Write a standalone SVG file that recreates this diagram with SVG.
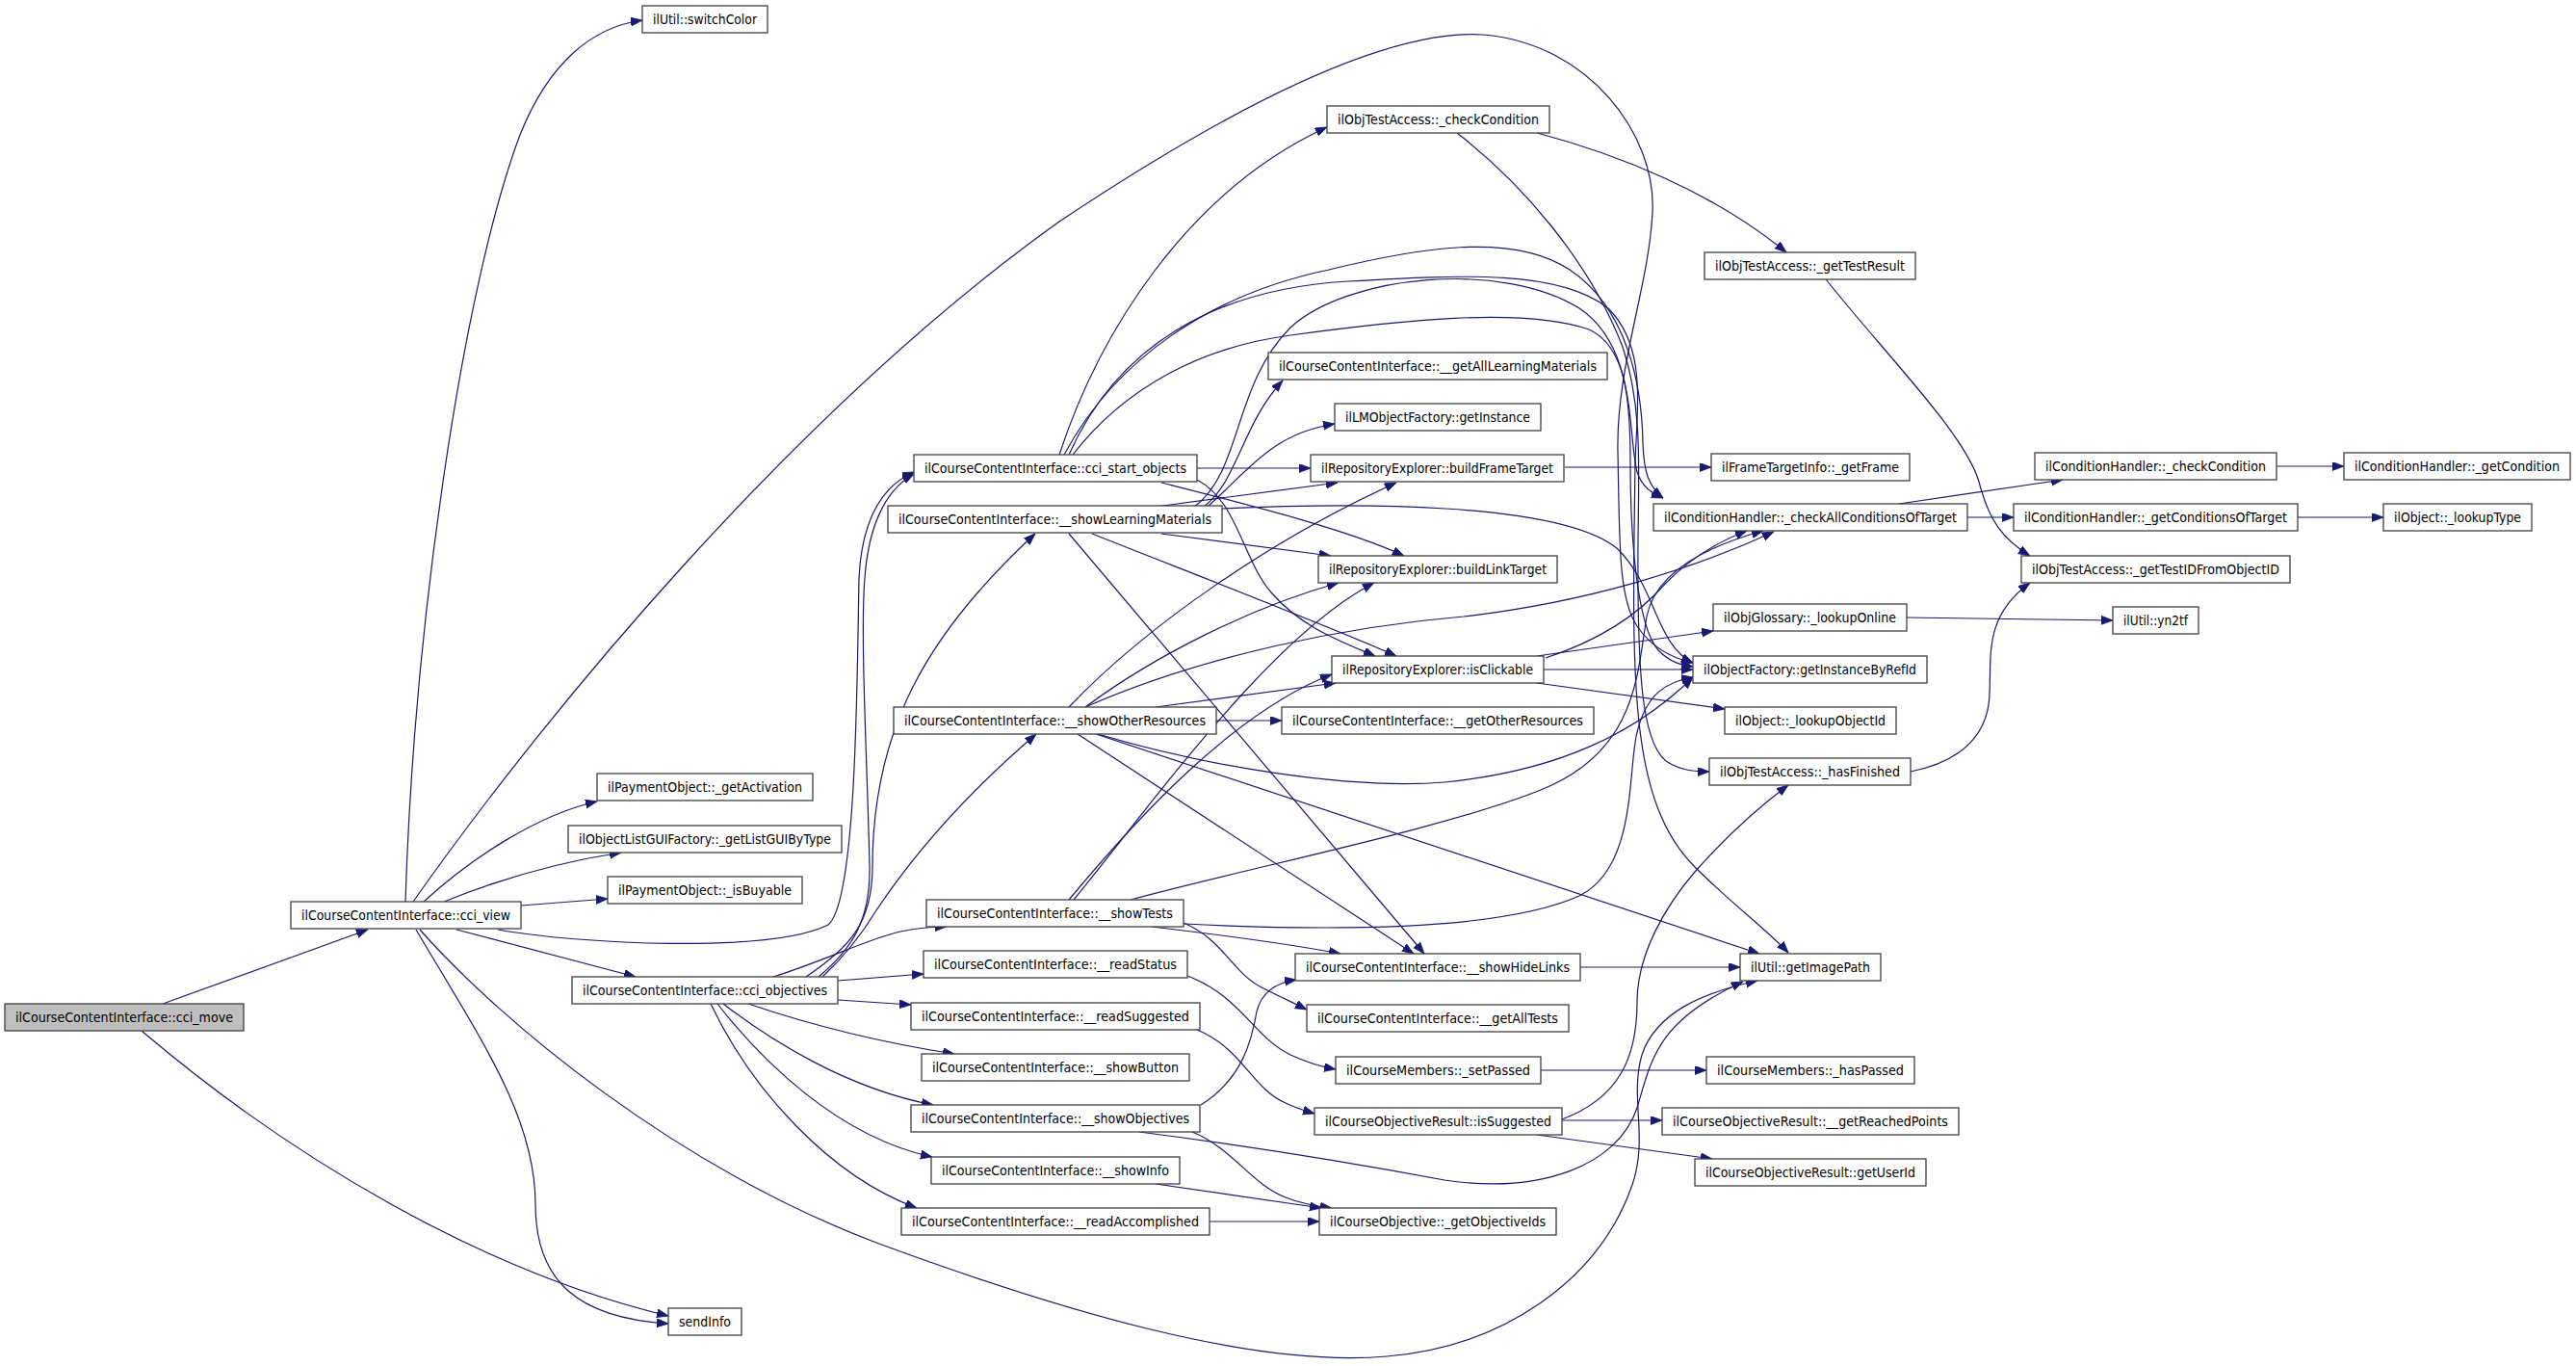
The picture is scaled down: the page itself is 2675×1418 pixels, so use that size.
<svg xmlns="http://www.w3.org/2000/svg" width="2675" height="1418" viewBox="0 0 2675 1418">
<style>
.n rect{fill:#ffffff;stroke:#404040;stroke-width:1.3}
.g rect{fill:#bfbfbf;stroke:#404040;stroke-width:1.3}
text{font-family:"DejaVu Sans","Liberation Sans",sans-serif;font-size:13.5px;fill:#000;text-anchor:middle}
.e path{fill:none;stroke:#191970;stroke-width:1.2;marker-end:url(#ah)}
</style>
<defs>
<marker id="ah" markerUnits="userSpaceOnUse" markerWidth="13" markerHeight="10" refX="12" refY="4.5" orient="auto">
<path d="M0,0 L12,4.5 L0,9 z" fill="#191970" stroke="#191970" stroke-width="0.8"/>
</marker>
</defs>
<rect width="2675" height="1418" fill="#ffffff"/>
<g id="connectors" class="e">
<path d="M169,1042 L382,965"/>
<path d="M147,1070 C 300,1200 500,1320 694,1366"/>
<path d="M432,965 C 500,1080 556,1160 556,1250 C 556,1330 600,1368 694,1374"/>
<path d="M421,936 C 430,650 480,300 540,140 C 570,65 615,28 667,21"/>
<path d="M429,936 C 560,750 820,430 1100,230 C 1280,110 1440,30 1540,36 C 1650,45 1720,140 1716,220 C 1712,300 1678,380 1680,470 C 1682,560 1680,620 1700,650 C 1715,672 1735,683 1758,688"/>
<path d="M440,936 C 490,890 560,845 620,832"/>
<path d="M461,936 C 520,912 580,895 645,885"/>
<path d="M541,940 L631,933"/>
<path d="M474,965 L660,1014"/>
<path d="M517,965 C 600,980 800,990 860,960 C 890,935 890,700 892,600 C 895,540 915,505 949,490"/>
<path d="M850,1014 C 885,985 904,955 903,900 C 901,800 893,660 898,600 C 902,545 920,508 949,492"/>
<path d="M837,1014 C 880,985 906,960 906,900 C 906,760 960,660 1075,554"/>
<path d="M854,1014 C 880,990 896,968 910,945 C 960,870 1020,810 1076,762"/>
<path d="M803,1014 C 860,996 900,975 935,967 C 950,964 965,962 983,962"/>
<path d="M870,1018 L959,1011"/>
<path d="M870,1038 L946,1043"/>
<path d="M777,1042 C 830,1060 900,1080 991,1094"/>
<path d="M751,1042 C 800,1080 880,1130 969,1147"/>
<path d="M745,1042 C 790,1100 870,1180 968,1201"/>
<path d="M738,1042 C 780,1130 860,1220 952,1254"/>
<path d="M436,965 C 520,1060 700,1210 910,1290 C 1100,1360 1300,1420 1440,1408 C 1560,1398 1660,1330 1695,1230 C 1712,1180 1692,1140 1705,1095 C 1720,1050 1770,1030 1825,1018"/>
<path d="M1100,472 C 1140,350 1230,200 1378,132"/>
<path d="M1243,486 L1361,486"/>
<path d="M1206,501 C 1300,525 1400,550 1458,577"/>
<path d="M1243,498 C 1285,520 1290,580 1320,615 C 1350,650 1390,665 1428,681"/>
<path d="M1105,472 C 1160,370 1260,305 1380,280 C 1470,258 1570,240 1630,280 C 1690,320 1705,400 1706,460 C 1707,490 1712,505 1727,517"/>
<path d="M1110,472 C 1160,360 1260,300 1400,292 C 1520,285 1620,280 1670,320 C 1710,360 1700,420 1698,480 C 1695,700 1690,830 1760,900 C 1800,940 1835,965 1857,989"/>
<path d="M1114,472 C 1170,400 1250,360 1340,348 C 1450,333 1580,318 1650,342 C 1690,360 1693,420 1693,480 C 1693,560 1700,650 1722,675 C 1735,688 1745,690 1758,692"/>
<path d="M1240,526 C 1290,490 1280,400 1340,340 C 1400,285 1560,270 1640,320 C 1700,360 1690,450 1700,490 C 1705,505 1715,512 1727,517"/>
<path d="M1513,138 C 1580,190 1650,270 1685,360 C 1705,420 1702,480 1701,560 C 1700,700 1705,770 1730,790 C 1745,800 1760,801 1775,801"/>
<path d="M1596,138 C 1680,160 1780,200 1855,262"/>
<path d="M1200,526 L1389,501"/>
<path d="M1268,528 C 1400,522 1620,520 1680,570 C 1720,610 1720,670 1758,688"/>
<path d="M1206,554 L1382,577"/>
<path d="M1134,554 C 1250,600 1380,650 1450,681"/>
<path d="M1110,554 L1479,990"/>
<path d="M1250,526 C 1285,500 1290,440 1332,395"/>
<path d="M1254,526 C 1295,490 1320,450 1386,440"/>
<path d="M1263,748 L1331,748"/>
<path d="M1110,734 C 1190,650 1320,560 1450,501"/>
<path d="M1127,734 C 1200,680 1300,630 1390,605"/>
<path d="M1127,734 C 1250,680 1400,650 1520,640 C 1650,625 1760,590 1842,552"/>
<path d="M1200,734 L1387,709"/>
<path d="M1119,762 L1468,990"/>
<path d="M1138,762 L1827,990"/>
<path d="M1140,762 C 1250,795 1400,820 1500,812 C 1620,800 1700,760 1758,703"/>
<path d="M1603,695 L1758,695"/>
<path d="M1596,681 L1779,655"/>
<path d="M1596,709 L1791,736"/>
<path d="M1605,683 C 1660,665 1700,640 1730,605 C 1760,575 1790,560 1814,551"/>
<path d="M1110,934 C 1180,850 1280,740 1383,700"/>
<path d="M1115,934 C 1200,830 1320,660 1427,605"/>
<path d="M1174,934 C 1300,900 1500,860 1600,820 C 1700,780 1700,700 1710,640 C 1720,590 1780,565 1831,551"/>
<path d="M1196,962 C 1280,972 1340,980 1392,990"/>
<path d="M1229,958 C 1270,975 1280,1010 1310,1025 C 1330,1035 1345,1042 1357,1048"/>
<path d="M1230,959 C 1350,965 1550,970 1640,930 C 1700,900 1690,800 1700,760 C 1710,720 1730,708 1758,703"/>
<path d="M1233,1013 C 1290,1035 1300,1075 1340,1095 C 1355,1102 1370,1107 1387,1110"/>
<path d="M1243,1069 C 1290,1088 1300,1130 1335,1145 C 1345,1150 1355,1153 1365,1156"/>
<path d="M1247,1147 C 1290,1120 1300,1080 1305,1050 C 1310,1030 1325,1020 1346,1017"/>
<path d="M1238,1175 C 1280,1192 1300,1230 1335,1243 C 1350,1249 1365,1252 1383,1254"/>
<path d="M1183,1175 C 1300,1190 1420,1210 1500,1225 C 1600,1240 1680,1210 1700,1150 C 1715,1100 1720,1060 1810,1019"/>
<path d="M1200,1229 L1372,1254"/>
<path d="M1256,1268 L1370,1268"/>
<path d="M1622,1163 L1726,1163"/>
<path d="M1596,1178 L1778,1203"/>
<path d="M1622,1162 C 1680,1140 1700,1100 1700,1040 C 1700,990 1730,940 1760,905 C 1800,860 1830,835 1857,815"/>
<path d="M1600,1111 L1772,1111"/>
<path d="M1625,485 L1777,485"/>
<path d="M1980,641 L2194,644"/>
<path d="M1984,801 C 2040,790 2065,760 2066,720 C 2068,680 2060,640 2108,605"/>
<path d="M1896,290 C 1960,370 2040,450 2055,500 C 2065,540 2080,560 2108,577"/>
<path d="M1972,523 L2142,498"/>
<path d="M2043,537 L2091,537"/>
<path d="M2364,484 L2434,484"/>
<path d="M2386,537 L2475,537"/>
<path d="M1641,1004 L1807,1004"/>
</g>
<g id="n_move" class="g"><rect x="5" y="1042" width="248" height="28"/><text x="129" y="1061" textLength="226" lengthAdjust="spacingAndGlyphs">ilCourseContentInterface::cci_move</text></g>
<g id="n_view" class="n"><rect x="302" y="936" width="239" height="28"/><text x="421.5" y="955" textLength="217" lengthAdjust="spacingAndGlyphs">ilCourseContentInterface::cci_view</text></g>
<g id="n_switchColor" class="n"><rect x="667" y="6" width="130" height="28"/><text x="732" y="25" textLength="108" lengthAdjust="spacingAndGlyphs">ilUtil::switchColor</text></g>
<g id="n_getActivation" class="n"><rect x="620" y="803" width="224" height="28"/><text x="732" y="822" textLength="202" lengthAdjust="spacingAndGlyphs">ilPaymentObject::_getActivation</text></g>
<g id="n_getListGUI" class="n"><rect x="590" y="857" width="284" height="28"/><text x="732" y="876" textLength="262" lengthAdjust="spacingAndGlyphs">ilObjectListGUIFactory::_getListGUIByType</text></g>
<g id="n_isBuyable" class="n"><rect x="631" y="910" width="202" height="28"/><text x="732" y="929" textLength="180" lengthAdjust="spacingAndGlyphs">ilPaymentObject::_isBuyable</text></g>
<g id="n_objectives" class="n"><rect x="594" y="1014" width="276" height="28"/><text x="732" y="1033" textLength="254" lengthAdjust="spacingAndGlyphs">ilCourseContentInterface::cci_objectives</text></g>
<g id="n_sendInfo" class="n"><rect x="694" y="1358" width="76" height="28"/><text x="732" y="1377" textLength="54" lengthAdjust="spacingAndGlyphs">sendInfo</text></g>
<g id="n_start" class="n"><rect x="949" y="472" width="294" height="28"/><text x="1096" y="491" textLength="272" lengthAdjust="spacingAndGlyphs">ilCourseContentInterface::cci_start_objects</text></g>
<g id="n_showLM" class="n"><rect x="922" y="525" width="347" height="28"/><text x="1095.5" y="544" textLength="325" lengthAdjust="spacingAndGlyphs">ilCourseContentInterface::__showLearningMaterials</text></g>
<g id="n_showOR" class="n"><rect x="928" y="734" width="335" height="28"/><text x="1095.5" y="753" textLength="313" lengthAdjust="spacingAndGlyphs">ilCourseContentInterface::__showOtherResources</text></g>
<g id="n_showTests" class="n"><rect x="962" y="934" width="267" height="28"/><text x="1095.5" y="953" textLength="245" lengthAdjust="spacingAndGlyphs">ilCourseContentInterface::__showTests</text></g>
<g id="n_readStatus" class="n"><rect x="959" y="987" width="274" height="28"/><text x="1096" y="1006" textLength="252" lengthAdjust="spacingAndGlyphs">ilCourseContentInterface::__readStatus</text></g>
<g id="n_readSuggested" class="n"><rect x="946" y="1041" width="300" height="28"/><text x="1096" y="1060" textLength="278" lengthAdjust="spacingAndGlyphs">ilCourseContentInterface::__readSuggested</text></g>
<g id="n_showButton" class="n"><rect x="957" y="1094" width="278" height="28"/><text x="1096" y="1113" textLength="256" lengthAdjust="spacingAndGlyphs">ilCourseContentInterface::__showButton</text></g>
<g id="n_showObjectives" class="n"><rect x="946" y="1147" width="300" height="28"/><text x="1096" y="1166" textLength="278" lengthAdjust="spacingAndGlyphs">ilCourseContentInterface::__showObjectives</text></g>
<g id="n_showInfo" class="n"><rect x="967" y="1201" width="258" height="28"/><text x="1096" y="1220" textLength="236" lengthAdjust="spacingAndGlyphs">ilCourseContentInterface::__showInfo</text></g>
<g id="n_readAccomplished" class="n"><rect x="936" y="1254" width="320" height="28"/><text x="1096" y="1273" textLength="298" lengthAdjust="spacingAndGlyphs">ilCourseContentInterface::__readAccomplished</text></g>
<g id="n_otaCheckCond" class="n"><rect x="1378" y="110" width="231" height="28"/><text x="1493.5" y="129" textLength="209" lengthAdjust="spacingAndGlyphs">ilObjTestAccess::_checkCondition</text></g>
<g id="n_getAllLM" class="n"><rect x="1317" y="366" width="352" height="28"/><text x="1493" y="385" textLength="330" lengthAdjust="spacingAndGlyphs">ilCourseContentInterface::__getAllLearningMaterials</text></g>
<g id="n_lmGetInstance" class="n"><rect x="1386" y="419" width="214" height="28"/><text x="1493" y="438" textLength="192" lengthAdjust="spacingAndGlyphs">ilLMObjectFactory::getInstance</text></g>
<g id="n_buildFrame" class="n"><rect x="1361" y="472" width="263" height="28"/><text x="1492.5" y="491" textLength="241" lengthAdjust="spacingAndGlyphs">ilRepositoryExplorer::buildFrameTarget</text></g>
<g id="n_buildLink" class="n"><rect x="1369" y="577" width="248" height="28"/><text x="1493" y="596" textLength="226" lengthAdjust="spacingAndGlyphs">ilRepositoryExplorer::buildLinkTarget</text></g>
<g id="n_isClickable" class="n"><rect x="1383" y="681" width="220" height="28"/><text x="1493" y="700" textLength="198" lengthAdjust="spacingAndGlyphs">ilRepositoryExplorer::isClickable</text></g>
<g id="n_getOtherRes" class="n"><rect x="1331" y="734" width="324" height="28"/><text x="1493" y="753" textLength="302" lengthAdjust="spacingAndGlyphs">ilCourseContentInterface::__getOtherResources</text></g>
<g id="n_showHideLinks" class="n"><rect x="1345" y="990" width="296" height="28"/><text x="1493" y="1009" textLength="274" lengthAdjust="spacingAndGlyphs">ilCourseContentInterface::__showHideLinks</text></g>
<g id="n_getAllTests" class="n"><rect x="1357" y="1043" width="272" height="28"/><text x="1493" y="1062" textLength="250" lengthAdjust="spacingAndGlyphs">ilCourseContentInterface::__getAllTests</text></g>
<g id="n_setPassed" class="n"><rect x="1387" y="1097" width="213" height="28"/><text x="1493.5" y="1116" textLength="191" lengthAdjust="spacingAndGlyphs">ilCourseMembers::_setPassed</text></g>
<g id="n_isSuggested" class="n"><rect x="1365" y="1150" width="257" height="28"/><text x="1493.5" y="1169" textLength="235" lengthAdjust="spacingAndGlyphs">ilCourseObjectiveResult::isSuggested</text></g>
<g id="n_getObjIds" class="n"><rect x="1370" y="1254" width="246" height="28"/><text x="1493" y="1273" textLength="224" lengthAdjust="spacingAndGlyphs">ilCourseObjective::_getObjectiveIds</text></g>
<g id="n_getTestResult" class="n"><rect x="1770" y="262" width="219" height="28"/><text x="1879.5" y="281" textLength="197" lengthAdjust="spacingAndGlyphs">ilObjTestAccess::_getTestResult</text></g>
<g id="n_getFrame" class="n"><rect x="1777" y="471" width="206" height="28"/><text x="1880" y="490" textLength="184" lengthAdjust="spacingAndGlyphs">ilFrameTargetInfo::_getFrame</text></g>
<g id="n_checkAll" class="n"><rect x="1717" y="523" width="326" height="28"/><text x="1880" y="542" textLength="304" lengthAdjust="spacingAndGlyphs">ilConditionHandler::_checkAllConditionsOfTarget</text></g>
<g id="n_lookupOnline" class="n"><rect x="1779" y="627" width="201" height="28"/><text x="1879.5" y="646" textLength="179" lengthAdjust="spacingAndGlyphs">ilObjGlossary::_lookupOnline</text></g>
<g id="n_getInstByRef" class="n"><rect x="1758" y="681" width="243" height="28"/><text x="1879.5" y="700" textLength="221" lengthAdjust="spacingAndGlyphs">ilObjectFactory::getInstanceByRefId</text></g>
<g id="n_lookupObjId" class="n"><rect x="1791" y="734" width="178" height="28"/><text x="1880" y="753" textLength="156" lengthAdjust="spacingAndGlyphs">ilObject::_lookupObjectId</text></g>
<g id="n_hasFinished" class="n"><rect x="1775" y="787" width="209" height="28"/><text x="1879.5" y="806" textLength="187" lengthAdjust="spacingAndGlyphs">ilObjTestAccess::_hasFinished</text></g>
<g id="n_getImagePath" class="n"><rect x="1807" y="990" width="146" height="28"/><text x="1880" y="1009" textLength="124" lengthAdjust="spacingAndGlyphs">ilUtil::getImagePath</text></g>
<g id="n_hasPassed" class="n"><rect x="1772" y="1097" width="216" height="28"/><text x="1880" y="1116" textLength="194" lengthAdjust="spacingAndGlyphs">ilCourseMembers::_hasPassed</text></g>
<g id="n_reachedPoints" class="n"><rect x="1726" y="1150" width="308" height="28"/><text x="1880" y="1169" textLength="286" lengthAdjust="spacingAndGlyphs">ilCourseObjectiveResult::__getReachedPoints</text></g>
<g id="n_getUserId" class="n"><rect x="1760" y="1203" width="240" height="28"/><text x="1880" y="1222" textLength="218" lengthAdjust="spacingAndGlyphs">ilCourseObjectiveResult::getUserId</text></g>
<g id="n_chCheckCond" class="n"><rect x="2113" y="470" width="251" height="28"/><text x="2238.5" y="489" textLength="229" lengthAdjust="spacingAndGlyphs">ilConditionHandler::_checkCondition</text></g>
<g id="n_getCondsOfTarget" class="n"><rect x="2091" y="523" width="295" height="28"/><text x="2238.5" y="542" textLength="273" lengthAdjust="spacingAndGlyphs">ilConditionHandler::_getConditionsOfTarget</text></g>
<g id="n_getTestID" class="n"><rect x="2099" y="577" width="279" height="28"/><text x="2238.5" y="596" textLength="257" lengthAdjust="spacingAndGlyphs">ilObjTestAccess::_getTestIDFromObjectID</text></g>
<g id="n_yn2tf" class="n"><rect x="2194" y="630" width="89" height="28"/><text x="2238.5" y="649" textLength="67" lengthAdjust="spacingAndGlyphs">ilUtil::yn2tf</text></g>
<g id="n_getCondition" class="n"><rect x="2434" y="470" width="235" height="28"/><text x="2551.5" y="489" textLength="213" lengthAdjust="spacingAndGlyphs">ilConditionHandler::_getCondition</text></g>
<g id="n_lookupType" class="n"><rect x="2475" y="523" width="154" height="28"/><text x="2552" y="542" textLength="132" lengthAdjust="spacingAndGlyphs">ilObject::_lookupType</text></g>
</svg>
